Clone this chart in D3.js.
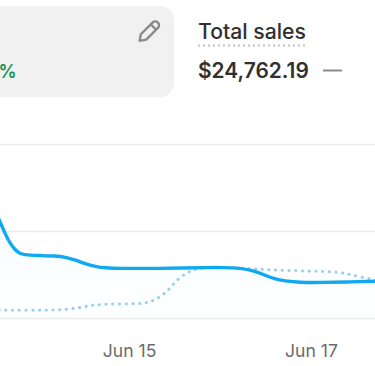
<!DOCTYPE html>
<html><head><meta charset="utf-8">
<script src="https://cdn.jsdelivr.net/npm/d3@7/dist/d3.min.js"></script>
<style>html,body{margin:0;padding:0;background:#fff;overflow:hidden}svg{display:block}
text{font-family:Inter,"Noto Sans",sans-serif}</style></head>
<body><svg id="c" width="375" height="366"></svg>
<script>
const dayTicks = [15, 17];
const gridValues = [0, 1000, 2000];
const currentDays = [13.50,13.58,13.64,13.69,13.75,13.80,13.86,13.91,14.02,14.19,14.30,14.41,14.52,14.63,14.74,14.90,15.23,15.61,15.83,16.05,16.22,16.38,16.49,16.60,16.71,16.88,17.10,17.43,17.75];
const currentValues = [1300,1113,966,862,780,740,728,722,718,713,701,667,621,592,575,569,569,575,580,580,575,540,494,448,425,408,408,414,425];
const previousDays = [13.50,13.91,14.24,14.41,14.57,14.74,15.01,15.18,15.29,15.40,15.47,15.56,15.67,15.78,16.0,16.33,16.55,16.88,17.21,17.37,17.54,17.75];
const previousValues = [92,86,92,109,144,161,161,167,207,287,368,471,540,575,580,569,552,540,534,517,471,430];
const title = "Total sales", amount = "$24,762.19", pct = "%", xPrefix = "Jun ";

const svg = d3.select("#c");
const dayX = d3.scaleLinear().domain([15, 17]).range([129, 311]);
const y = d3.scaleLinear().domain([0, 2000]).range([318, 144]);

svg.append("path").attr("fill","#f1f1f1")
  .attr("d","M0,6H160a14,14 0 0 1 14,14V83a14,14 0 0 1 -14,14H0Z");
svg.append("text").attr("x",-1.5).attr("y",78).attr("font-size",18).attr("font-weight",600).attr("fill","#12914f").text(pct);
const pen = svg.append("g").attr("transform","translate(148.5,32) rotate(45)").attr("fill","none").attr("stroke","#8a8a8a").attr("stroke-width",2.4);
pen.append("path").attr("d","M-3.8,-9.5a3.8,3.8 0 0 1 7.6,0V7L0,12.5L-3.8,7Z").attr("stroke-linejoin","round");
pen.append("path").attr("d","M-3.8,-7H3.8");

svg.append("text").attr("x",198).attr("y",39).attr("font-size",21.2).attr("font-weight",500).attr("fill","#303030").text(title);
svg.append("line").attr("x1",198).attr("x2",306).attr("y1",45.5).attr("y2",45.5).attr("stroke","#c4c4c4").attr("stroke-width",2).attr("stroke-dasharray","2 3");
svg.append("text").attr("x",198).attr("y",78).attr("font-size",20.9).attr("font-weight",600).attr("fill","#303030").text(amount);
svg.append("line").attr("x1",323).attr("x2",342).attr("y1",70.5).attr("y2",70.5).attr("stroke","#8a8a8a").attr("stroke-width",2);

svg.append("g").selectAll("line").data(gridValues).join("line")
  .attr("x1",0).attr("x2",375).attr("y1",d=>Math.round(y(d))+.5).attr("y2",d=>Math.round(y(d))+.5)
  .attr("stroke","#ebebeb").attr("stroke-width",1.6);

const cur = currentDays.map((d,i)=>[d,currentValues[i]]);
const prev = previousDays.map((d,i)=>[d,previousValues[i]]);
const px = d=>dayX(d);
const g = svg.append("defs").append("linearGradient").attr("id","fade").attr("x1",0).attr("x2",0).attr("y1",0).attr("y2",1);
g.append("stop").attr("offset","0").attr("stop-color","#19a9f0").attr("stop-opacity",.03);
g.append("stop").attr("offset","1").attr("stop-color","#19a9f0").attr("stop-opacity",.008);
svg.append("path").datum(cur).attr("fill","url(#fade)")
  .attr("d",d3.area().x(d=>px(d[0])).y0(y(0)).y1(d=>y(d[1])).curve(d3.curveBasis));
svg.append("path").datum(prev).attr("fill","none").attr("stroke","#94cff1").attr("stroke-width",3)
  .attr("stroke-linecap","round").attr("stroke-dasharray","0.1 6.6")
  .attr("d",d3.line().x(d=>px(d[0])).y(d=>y(d[1])).curve(d3.curveBasis));
svg.append("path").datum(cur).attr("fill","none").attr("stroke","#0fa9f2").attr("stroke-width",3.4)
  .attr("stroke-linecap","round")
  .attr("d",d3.line().x(d=>px(d[0])).y(d=>y(d[1])).curve(d3.curveBasis));

const ax = svg.append("g").attr("transform","translate(0,318)")
  .call(d3.axisBottom(dayX).tickValues(dayTicks).tickSize(0).tickPadding(27).tickFormat(d=>xPrefix+d));
ax.select(".domain").remove();
ax.selectAll("text").attr("font-size",17.6).attr("font-family","Inter").attr("fill","#6b6b6b");
</script></body></html>
